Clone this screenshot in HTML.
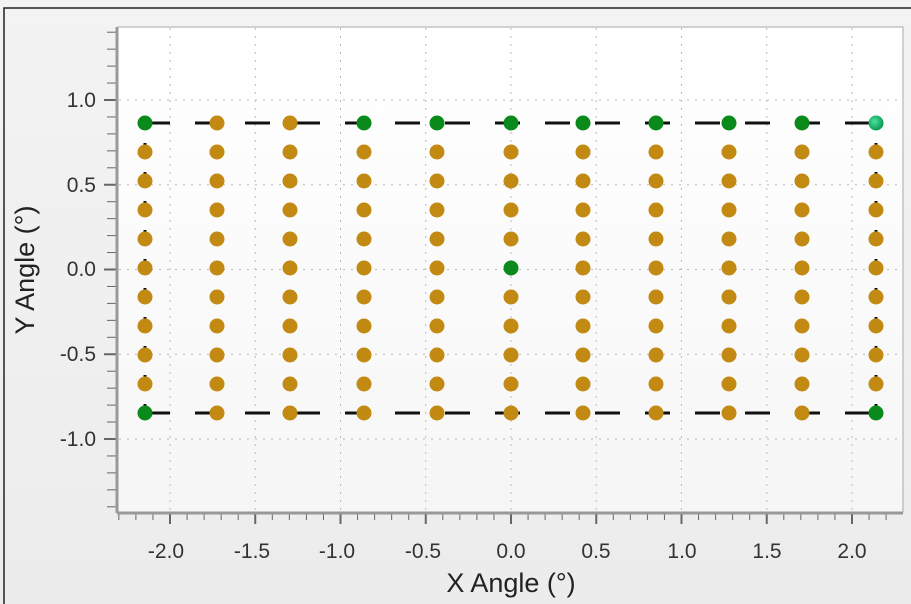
<!DOCTYPE html>
<html><head><meta charset="utf-8"><style>
html,body{margin:0;padding:0;width:911px;height:604px;overflow:hidden;background:#f2f2f2}
svg{display:block;font-family:"Liberation Sans",sans-serif}
</style></head><body>
<svg id="s" width="911" height="604" viewBox="0 0 911 604">
<defs>
<linearGradient id="bg" x1="0" y1="0" x2="0" y2="1"><stop offset="0" stop-color="#f3f3f3"/><stop offset="1" stop-color="#ececec"/></linearGradient>
<linearGradient id="pg" x1="0" y1="0" x2="0" y2="1"><stop offset="0" stop-color="#ffffff"/><stop offset="1" stop-color="#f6f6f6"/></linearGradient>
<radialGradient id="tg" cx="0.4" cy="0.4" r="0.6"><stop offset="0" stop-color="#4de0a0"/><stop offset="1" stop-color="#0a9a50"/></radialGradient>
</defs>
<rect x="0" y="0" width="911" height="604" fill="url(#bg)"/>
<rect x="4" y="8" width="920" height="610" fill="none" stroke="#222" stroke-width="1.5"/>
<rect x="118" y="27" width="785" height="485" fill="url(#pg)" stroke="#aaa" stroke-width="1"/>
<g id="grid" stroke="#bbb" stroke-width="1" stroke-dasharray="2 6"></g>
<g id="ax" stroke="#666" stroke-width="1"></g>
<line x1="117" y1="27" x2="117" y2="513" stroke="#999" stroke-width="3"/>
<line x1="117" y1="513" x2="903" y2="513" stroke="#999" stroke-width="3"/>
<g id="rect" stroke="#111" stroke-width="3" fill="none" stroke-dasharray="25 25"></g>
<g id="pts"></g>
<g font-size="21" fill="#333" text-anchor="end">
<text x="96" y="107">1.0</text>
<text x="96" y="192">0.5</text>
<text x="96" y="276">0.0</text>
<text x="96" y="361">-0.5</text>
<text x="96" y="446">-1.0</text>
</g>
<g font-size="21" fill="#333" text-anchor="middle">
<text x="166" y="558">-2.0</text>
<text x="252" y="558">-1.5</text>
<text x="337" y="558">-1.0</text>
<text x="423" y="558">-0.5</text>
<text x="511" y="558">0.0</text>
<text x="596" y="558">0.5</text>
<text x="682" y="558">1.0</text>
<text x="767" y="558">1.5</text>
<text x="852" y="558">2.0</text>
</g>
<text x="511" y="592" font-size="27" fill="#222" text-anchor="middle">X Angle (°)</text>
<text transform="translate(34,270) rotate(-90)" font-size="27" fill="#222" text-anchor="middle">Y Angle (°)</text>
</svg>
<script>
var ns="http://www.w3.org/2000/svg";
function el(p,t,a){var e=document.createElementNS(ns,t);for(var k in a)e.setAttribute(k,a[k]);document.getElementById(p).appendChild(e);return e;}
function X(v){return 511+v*170.5}function Y(v){return 269.5-v*169.5}
for(var i=-4;i<=4;i++){var x=X(i*0.5);el('grid','line',{x1:x,y1:28,x2:x,y2:511});}
for(var i=-2;i<=2;i++){var y=Y(i*0.5);el('grid','line',{x1:119,y1:y,x2:902,y2:y});}
for(var i=-23;i<=23;i++){var x=X(i*0.1),m=(i%5==0);if(x<118||x>903)continue;el('ax','line',{x1:x,y1:513,x2:x,y2:m?524:520,'stroke-width':m?2:1});}
for(var i=-14;i<=14;i++){var y=Y(i*0.1),m=(i%5==0);el('ax','line',{x1:m?104:107,y1:y,x2:117,y2:y,'stroke-width':m?2:1});}
var xs=[145,217,290,364,437,511,583,656,729,802,876],ys=[123,152,181,210,239,268,297,326,355,384,413];
el('rect','line',{x1:145,y1:123,x2:876,y2:123});
el('rect','line',{x1:145,y1:413,x2:876,y2:413});
el('rect','line',{x1:145,y1:123,x2:145,y2:413,'stroke-dasharray':'10 19','stroke-dashoffset':'-20'});
el('rect','line',{x1:876,y1:123,x2:876,y2:413,'stroke-dasharray':'10 19','stroke-dashoffset':'-20'});
var G='#0b8a1c',O='#c28a12';
for(var c=0;c<11;c++)for(var r=0;r<11;r++){
 var f=O;
 if(r==0&&c!=1&&c!=2)f=G;
 if(r==10&&(c==0||c==10))f=G;
 if(r==5&&c==5)f=G;
 if(r==0&&c==10)f='url(#tg)';
 el('pts','circle',{cx:xs[c],cy:ys[r],r:7.5,fill:f});
}
</script>
</body></html>
